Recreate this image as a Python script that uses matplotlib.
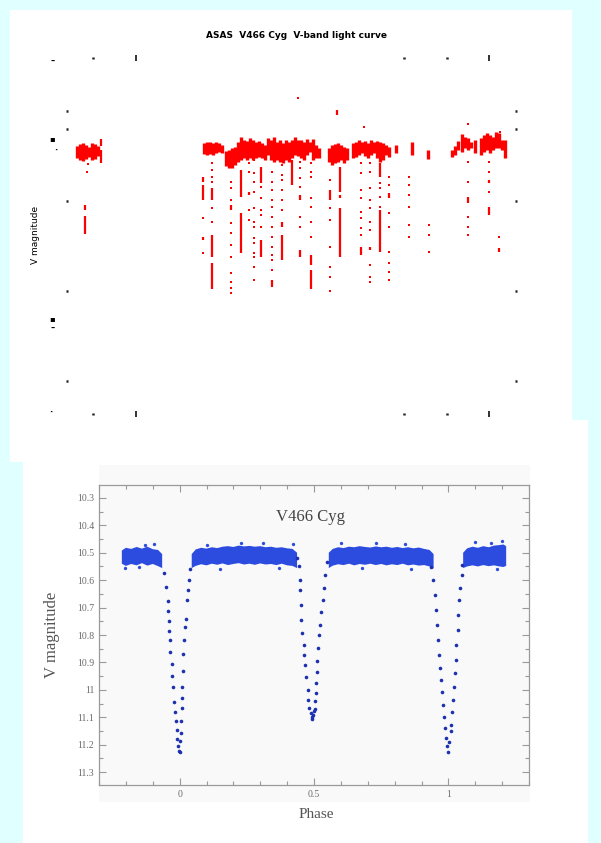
import numpy as np
import matplotlib
matplotlib.use("Agg")
from matplotlib import pyplot as plt
from matplotlib.patches import Rectangle
from matplotlib.ticker import FixedLocator, MultipleLocator, FuncFormatter

W, H = 601, 843

# ---- ASAS light curve (HJD - 2450000, V magnitude) ----
# dense out-of-eclipse nights: time, brightest and faintest point
band_t = [1800, 1830, 1860, 1890, 1920, 1950, 1980, 2010,
          3070, 3100, 3130, 3160, 3190, 3220, 3250, 3290, 3320, 3350, 3380, 3410,
          3440, 3470, 3500, 3530, 3560, 3590, 3620, 3650, 3680, 3710, 3740, 3770,
          3800, 3830, 3860, 3890, 3920, 3950, 3980, 4010, 4040, 4070, 4100, 4130,
          4160, 4190, 4220,
          4320, 4350, 4380, 4410, 4440, 4470, 4500, 4560, 4590, 4620, 4650, 4680,
          4710, 4740, 4770, 4800, 4830, 4860, 4890, 4920,
          4990, 5150, 5310,
          5550, 5580, 5610, 5650, 5680, 5710, 5740, 5780, 5840, 5870, 5900, 5930,
          5960, 5990, 6020, 6050, 6080]
band_hi = [10.480, 10.470, 10.465, 10.475, 10.485, 10.465, 10.470, 10.480,
           10.465, 10.460, 10.460, 10.465, 10.460, 10.465, 10.475, 10.505, 10.500, 10.490, 10.485, 10.460,
           10.435, 10.450, 10.455, 10.440, 10.450, 10.460, 10.455, 10.465, 10.475, 10.440, 10.450, 10.435,
           10.460, 10.450, 10.465, 10.450, 10.460, 10.450, 10.435, 10.450, 10.450, 10.460, 10.445, 10.460,
           10.445, 10.475, 10.490,
           10.490, 10.475, 10.470, 10.465, 10.475, 10.485, 10.490, 10.465, 10.460, 10.450, 10.460, 10.455,
           10.465, 10.450, 10.460, 10.455, 10.460, 10.465, 10.475, 10.485,
           10.475, 10.460, 10.500,
           10.500, 10.480, 10.455, 10.420, 10.435, 10.440, 10.460, 10.450, 10.440, 10.425, 10.415, 10.425,
           10.435, 10.410, 10.415, 10.450, 10.450]
band_lo = [10.540, 10.550, 10.555, 10.545, 10.535, 10.550, 10.545, 10.530,
           10.520, 10.525, 10.520, 10.525, 10.515, 10.510, 10.515, 10.580, 10.590, 10.590, 10.575, 10.560,
           10.550, 10.540, 10.550, 10.540, 10.550, 10.540, 10.535, 10.540, 10.550, 10.525, 10.550, 10.560,
           10.550, 10.560, 10.565, 10.550, 10.560, 10.540, 10.525, 10.530, 10.540, 10.550, 10.525, 10.510,
           10.550, 10.540, 10.540,
           10.560, 10.575, 10.565, 10.560, 10.550, 10.565, 10.550, 10.540, 10.535, 10.525, 10.515, 10.530,
           10.540, 10.525, 10.515, 10.540, 10.560, 10.550, 10.525, 10.535,
           10.515, 10.525, 10.545,
           10.535, 10.525, 10.500, 10.510, 10.490, 10.500, 10.490, 10.515, 10.525, 10.510, 10.500, 10.515,
           10.500, 10.490, 10.490, 10.500, 10.540]

# unbroken runs of points inside eclipses
run_t = [1880, 1880, 2040, 2040, 3060, 3060, 3060, 3150, 3150, 3150, 3340, 3440, 3440,
         3520, 3640, 3640, 3750, 3850, 3850, 3950, 4030, 4030, 4140, 4140, 4330, 4400,
         4430, 4430, 4430, 4640, 4730, 4830, 4830, 4920, 5710, 5920, 5920, 6020]
run_hi = [10.775, 10.830, 10.445, 10.500, 10.635, 10.675, 10.935, 10.690, 10.925, 11.065, 10.775, 10.600, 10.815,
          10.710, 10.585, 10.950, 11.150, 10.860, 10.925, 10.550, 10.725, 11.000, 11.025, 11.100, 10.700, 10.300,
          10.585, 10.725, 10.790, 10.985, 10.985, 10.565, 10.800, 10.715, 10.735, 10.650, 10.785, 10.990]
run_lo = [10.800, 10.920, 10.480, 10.565, 10.660, 10.750, 10.950, 10.750, 11.035, 11.195, 10.800, 10.735, 11.015,
          10.725, 10.665, 11.035, 11.185, 10.885, 11.050, 10.675, 10.750, 11.035, 11.075, 11.195, 10.750, 10.325,
          10.710, 10.740, 11.035, 11.025, 11.000, 10.635, 11.010, 10.740, 10.765, 10.665, 10.825, 11.010]

# single faint points, grouped by night
drop_t = [1900, 1910, 3060, 3150, 3340, 3520, 3570, 3640, 3750, 3850, 4030, 4140,
          4330, 4640, 4730, 4830, 4920, 5120, 5320, 5710, 5920, 6020]
drop_mag = [[10.610], [10.570], [10.840, 11.015],
            [10.565, 10.600, 10.635, 10.660, 10.790, 10.860],
            [10.660, 10.690, 10.750, 10.865, 10.915, 10.975, 11.035, 11.115, 11.160, 11.190, 11.215],
            [10.565, 10.610, 10.800, 10.850],
            [10.550, 10.615, 10.660, 10.710, 10.790, 10.860, 10.885, 10.940, 10.965, 11.015, 11.035, 11.085, 11.150],
            [10.685, 10.740, 10.800, 10.825, 10.885],
            [10.610, 10.660, 10.700, 10.750, 10.785, 10.835, 10.885, 10.935, 10.985, 11.025, 11.050, 11.100],
            [10.575, 10.625, 10.650, 10.700, 10.750, 10.800],
            [10.560, 10.590, 10.640, 10.685, 10.835, 10.885],
            [10.565, 10.610, 10.635, 10.740, 10.785, 10.860, 10.935],
            [10.650, 10.790, 10.850, 10.985, 11.085, 11.135, 11.205],
            [10.565, 10.615, 10.700, 10.740, 10.810, 10.840, 10.890, 10.925],
            [10.565, 10.610, 10.690, 10.750, 10.790, 10.860, 10.900, 11.075, 11.135, 11.160],
            [10.665, 10.690, 10.735, 10.785],
            [10.635, 10.675, 10.815, 10.885, 11.010, 11.065, 11.110, 11.150],
            [10.635, 10.675, 10.725, 10.785, 10.875, 10.935],
            [10.875, 10.925, 11.010],
            [10.560, 10.660, 10.835, 10.885, 10.925],
            [10.560, 10.610, 10.710],
            [10.935]]
stray_t = [4010, 4670, 5710, 6030]
stray_mag = [10.240, 10.385, 10.370, 10.410]

# ---- phased V light curve ----
nan = np.nan
band_ph = [-0.215, -0.20, -0.18, -0.16, -0.14, -0.12, -0.10, -0.08, -0.065, nan,
           0.045, 0.06, 0.08, 0.10, 0.12, 0.14, 0.16, 0.18, 0.20, 0.22, 0.24, 0.26, 0.28,
           0.30, 0.32, 0.34, 0.36, 0.38, 0.40, 0.42, 0.437, nan,
           0.555, 0.57, 0.59, 0.61, 0.63, 0.65, 0.67, 0.69, 0.71, 0.73, 0.75, 0.77, 0.79,
           0.81, 0.83, 0.85, 0.87, 0.89, 0.91, 0.93, 0.945, nan,
           1.055, 1.07, 1.09, 1.11, 1.13, 1.15, 1.17, 1.19, 1.205, 1.215]
band_top = [10.492, 10.482, 10.486, 10.479, 10.485, 10.478, 10.487, 10.490, 10.505, nan,
            10.505, 10.488, 10.482, 10.485, 10.480, 10.483, 10.478, 10.476, 10.479, 10.474, 10.477, 10.475, 10.478,
            10.476, 10.480, 10.478, 10.482, 10.480, 10.484, 10.486, 10.500, nan,
            10.500, 10.486, 10.480, 10.483, 10.478, 10.480, 10.476, 10.479, 10.481, 10.477, 10.480, 10.478, 10.482,
            10.479, 10.483, 10.480, 10.484, 10.481, 10.486, 10.490, 10.505, nan,
            10.500, 10.484, 10.478, 10.482, 10.476, 10.480, 10.474, 10.472, 10.470, 10.476]
band_bot = [10.540, 10.548, 10.541, 10.546, 10.538, 10.547, 10.541, 10.549, 10.556, nan,
            10.556, 10.548, 10.542, 10.546, 10.540, 10.544, 10.539, 10.545, 10.541, 10.538, 10.543, 10.540, 10.544,
            10.539, 10.543, 10.541, 10.545, 10.540, 10.546, 10.548, 10.556, nan,
            10.556, 10.547, 10.542, 10.545, 10.540, 10.546, 10.541, 10.544, 10.540, 10.545, 10.541, 10.546, 10.542,
            10.545, 10.540, 10.546, 10.543, 10.547, 10.545, 10.550, 10.558, nan,
            10.556, 10.550, 10.546, 10.550, 10.545, 10.549, 10.546, 10.550, 10.552, 10.548]
edge_ph = [-0.205, -0.150, -0.127, -0.097, 0.10, 0.15, 0.23, 0.31, 0.37, 0.42,
           0.60, 0.68, 0.73, 0.84, 0.86, 1.10, 1.16, 1.18, 1.20]
edge_mag = [10.555, 10.553, 10.471, 10.468, 10.470, 10.558, 10.465, 10.466, 10.556, 10.468,
            10.466, 10.557, 10.463, 10.468, 10.558, 10.462, 10.465, 10.560, 10.458]

prim_ph = [-0.060, -0.052, -0.045, -0.043, -0.041, -0.039, -0.037, -0.034, -0.030, -0.028, -0.024,
           -0.021, -0.018, -0.015, -0.011, -0.008, -0.005, -0.002,
           0.001, 0.003, 0.004, 0.005, 0.007, 0.008, 0.009, 0.011, 0.014, 0.018, 0.021, 0.023,
           0.026, 0.030, 0.034, 0.040]
prim_mag = [10.574, 10.625, 10.675, 10.712, 10.748, 10.785, 10.820, 10.862, 10.905, 10.950, 10.990,
            11.045, 11.080, 11.112, 11.148, 11.178, 11.205, 11.222,
            11.228, 11.185, 11.158, 11.112, 11.065, 11.028, 10.990, 10.930, 10.868, 10.820, 10.772, 10.742,
            10.672, 10.636, 10.600, 10.560]
sec_ph = [0.438, 0.445, 0.448, 0.449, 0.452, 0.453, 0.457, 0.461, 0.464, 0.468, 0.472, 0.476, 0.479,
          0.483, 0.487, 0.491, 0.494, 0.496, 0.499,
          0.502, 0.505, 0.507, 0.509, 0.511, 0.513, 0.516, 0.519, 0.523, 0.527, 0.532, 0.536, 0.541, 0.549]
sec_mag = [10.520, 10.548, 10.600, 10.636, 10.690, 10.745, 10.793, 10.836, 10.873, 10.909, 10.953, 11.001, 11.037,
           11.066, 11.085, 11.098, 11.105, 11.090, 11.078,
           11.070, 11.040, 11.010, 10.975, 10.935, 10.893, 10.848, 10.800, 10.762, 10.716, 10.672, 10.628, 10.581, 10.534]
prim1_ph = [0.936, 0.944, 0.951, 0.955, 0.959, 0.963, 0.966, 0.970, 0.974, 0.978, 0.981, 0.985, 0.989,
            0.992, 0.994, 0.997,
            1.004, 1.009, 1.011, 1.015, 1.019, 1.022, 1.026, 1.027, 1.030, 1.034, 1.037, 1.041, 1.045, 1.049, 1.052]
prim1_mag = [10.552, 10.599, 10.654, 10.709, 10.763, 10.818, 10.873, 10.920, 10.964, 11.008, 11.055, 11.099, 11.139,
             11.176, 11.205, 11.227,
             11.190, 11.150, 11.128, 11.081, 11.037, 10.990, 10.939, 10.891, 10.836, 10.782, 10.727, 10.672, 10.628,
             10.581, 10.545]


def box(x0, y0, x1, y1):
    """Pixel rectangle (left, top, right, bottom) to figure fractions."""
    return [x0 / W, 1 - y1 / H, (x1 - x0) / W, (y1 - y0) / H]


fig = plt.figure(figsize=(W / 100, H / 100), dpi=100)
fig.patch.set_facecolor('#e0ffff')

# white sheets behind the two plots
for x0, y0, x1, y1, c in [(10, 10, 572, 462, 'white'), (23, 420, 588, H, 'white'),
                          (99, 465, 530, 802, '#f9f9f9')]:
    l, b, w, h = box(x0, y0, x1, y1)
    fig.add_artist(Rectangle((l, b), w, h, transform=fig.transFigure,
                             facecolor=c, edgecolor='none', zorder=0))

# ---- top: raw light curve ----
ax1 = fig.add_axes(box(67, 58, 516, 414))
ax1.set_facecolor('none')
for s in ax1.spines.values():
    s.set_visible(False)
ax1.set_xlim(1700, 6190)
ax1.set_ylim(11.82, 10.04)
ax1.xaxis.set_major_locator(FixedLocator([2390, 5920]))
ax1.xaxis.set_minor_locator(FixedLocator([1960, 5070, 5500]))
ax1.yaxis.set_major_locator(FixedLocator([10.305, 10.395, 10.755, 11.205, 11.655]))
ax1.tick_params(which='both', direction='inout', top=True, right=True, colors='#222',
                labelbottom=False, labelleft=False)
ax1.tick_params(axis='x', which='major', length=4.0, width=1.3)
ax1.tick_params(axis='x', which='minor', length=1.6, width=1.8)
ax1.tick_params(axis='y', which='major', length=1.6, width=1.8)

ax1.vlines(band_t, band_hi, band_lo, colors='red', lw=2.4)
ax1.vlines(run_t, run_hi, run_lo, colors='red', lw=1.6)
for t, mags in zip(drop_t, drop_mag):
    ax1.plot([t] * len(mags), mags, 's', color='red', ms=1.6, mew=0)
ax1.plot(stray_t, stray_mag, 's', color='red', ms=1.6, mew=0)

fig.text(297 / W, 1 - 35 / H, "ASAS  V466 Cyg  V-band light curve", ha='center', va='center',
         fontsize=6.5, fontweight='bold')
fig.text(35 / W, 1 - 235 / H, "V magnitude", rotation=90, ha='center', va='center', fontsize=6.5)
for x, y, s in [(53, 61, '\u2013'), (52, 139, '\u25aa'), (56, 151, '\u00b7'),
                (52, 319, '\u25aa'), (53, 328, '\u2013'), (51, 413, '\u00b7')]:
    fig.text(x / W, 1 - y / H, s, ha='center', va='center', fontsize=6, fontweight='bold')

# ---- bottom: phased light curve ----
serif = 'Liberation Serif'
ax2 = fig.add_axes(box(99, 485, 529, 785))
ax2.set_facecolor('none')
ax2.set_xlim(-0.3, 1.3)
ax2.set_ylim(11.347, 10.253)
for s in ax2.spines.values():
    s.set_color('#9a9a9a')
    s.set_linewidth(0.9)
ax2.xaxis.set_major_locator(FixedLocator([0, 0.5, 1]))
ax2.xaxis.set_minor_locator(MultipleLocator(0.1))
ax2.yaxis.set_major_locator(MultipleLocator(0.1))
ax2.yaxis.set_minor_locator(MultipleLocator(0.05))
ax2.xaxis.set_major_formatter(FuncFormatter(lambda v, p: f"{v:g}"))
ax2.yaxis.set_major_formatter(FuncFormatter(lambda v, p: f"{v:.1f}".rstrip('0').rstrip('.')))
ax2.tick_params(which='both', direction='in', top=True, right=True, color='#9a9a9a',
                labelcolor='#6a6a6a', labelsize=7, width=0.8)
ax2.tick_params(which='major', length=5)
ax2.tick_params(which='minor', length=3)
for lab in ax2.get_xticklabels() + ax2.get_yticklabels():
    lab.set_family(serif)

ax2.fill_between(band_ph, band_top, band_bot, color='#2c4ce0', lw=0)
ax2.plot(edge_ph, edge_mag, 'o', color='#2c4ce0', ms=2.4, mew=0)
for ph, mag in [(prim_ph, prim_mag), (sec_ph, sec_mag), (prim1_ph, prim1_mag)]:
    ax2.plot(ph, mag, 'o', color='#1d30b0', ms=2.6, mew=0)

ax2.text((311 - 99) / 430, 1 - (517 - 485) / 300, "V466 Cyg", transform=ax2.transAxes,
         ha='center', va='center', fontsize=12, color='#444', family=serif)
ax2.set_ylabel("V magnitude", fontsize=12, color='#555', family=serif)
ax2.yaxis.set_label_coords(-(99 - 60) / 430, 0.5)
ax2.set_xlabel("Phase", fontsize=11, color='#555', family=serif)
ax2.xaxis.set_label_coords((316 - 99) / 430, -(808 - 785) / 300)

fig.savefig('out.png', dpi=100, facecolor=fig.get_facecolor())
